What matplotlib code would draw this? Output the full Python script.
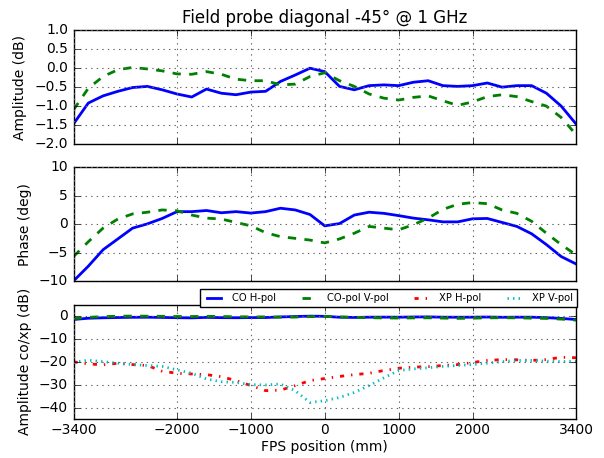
import numpy as np
import matplotlib
matplotlib.use('Agg')
import matplotlib.pyplot as plt

plt.style.use('classic')
plt.rcParams['font.size'] = 10

# FPS position (mm), sampled every 200 mm
pos = np.arange(-3400, 3401, 200)

# amplitude (dB)
amp_h = [-1.47, -0.92, -0.73, -0.61, -0.51, -0.48, -0.57, -0.68, -0.76, -0.55,
         -0.66, -0.70, -0.63, -0.61, -0.35, -0.18, 0.00, -0.09, -0.48, -0.57,
         -0.46, -0.44, -0.46, -0.37, -0.33, -0.46, -0.48, -0.46, -0.39, -0.50,
         -0.46, -0.46, -0.66, -1.00, -1.47]
amp_v = [-1.10, -0.53, -0.22, -0.04, 0.02, -0.02, -0.07, -0.15, -0.16, -0.09,
         -0.16, -0.29, -0.33, -0.33, -0.44, -0.42, -0.22, -0.12, -0.33, -0.48,
         -0.68, -0.79, -0.84, -0.77, -0.73, -0.86, -0.98, -0.89, -0.75, -0.70,
         -0.75, -0.88, -1.00, -1.30, -1.75]

# phase (deg)
phase_h = [-10.0, -7.4, -4.5, -2.6, -0.7, 0.05, 1.0, 2.2, 2.2, 2.4,
           2.0, 2.2, 1.95, 2.2, 2.8, 2.5, 1.7, -0.3, 0.1, 1.6,
           2.1, 1.9, 1.5, 1.06, 0.76, 0.4, 0.4, 0.94, 1.0, 0.3,
           -0.4, -1.7, -3.6, -5.7, -7.0]
phase_v = [-5.7, -3.1, -0.7, 0.9, 1.8, 2.1, 2.5, 2.35, 1.6, 1.06,
           0.9, 0.3, -0.3, -1.5, -2.2, -2.5, -2.8, -3.3, -2.6, -1.6,
           -0.4, -0.7, -1.0, -0.1, 1.06, 2.6, 3.5, 3.8, 3.6, 2.5,
           1.9, 0.5, -1.6, -3.6, -5.4]

# cross-pol amplitude (dB)
xp_h = [-20.0, -20.9, -21.3, -20.6, -21.2, -21.6, -24.1, -25.0, -25.3, -25.6,
        -26.5, -28.2, -30.4, -32.6, -32.4, -30.4, -28.2, -27.3, -26.4, -25.6,
        -25.0, -23.8, -22.8, -22.3, -22.1, -21.6, -21.2, -20.3, -19.4, -19.0,
        -19.1, -19.4, -19.0, -18.0, -18.2]
xp_v = [-20.1, -19.3, -19.9, -20.6, -21.2, -21.6, -22.0, -23.5, -25.0, -27.5,
        -28.7, -29.0, -30.0, -30.1, -29.7, -32.6, -37.8, -37.0, -35.6, -33.4,
        -30.4, -27.0, -23.8, -23.1, -22.6, -22.0, -21.6, -21.2, -20.6, -19.9,
        -19.4, -19.4, -19.7, -19.9, -19.7]

xticks = [-3400, -2000, -1000, 0, 1000, 2000, 3400]

fig = plt.figure(figsize=(6.04, 4.58), dpi=100, facecolor='white')
ax1 = fig.add_axes([0.1217, 0.6856, 0.8319, 0.2482])
ax2 = fig.add_axes([0.1217, 0.3865, 0.8319, 0.2482])
ax3 = fig.add_axes([0.1217, 0.0852, 0.8319, 0.2495])

ax1.plot(pos, amp_h, 'b-', lw=2)
ax1.plot(pos, amp_v, 'g--', lw=2)
ax1.set_ylim(-2.0, 1.0)
ax1.set_yticks([-2.0, -1.5, -1.0, -0.5, 0.0, 0.5, 1.0])
ax1.set_ylabel('Amplitude (dB)')
ax1.set_title('Field probe diagonal -45° @ 1 GHz', fontsize=12)

ax2.plot(pos, phase_h, 'b-', lw=2)
ax2.plot(pos, phase_v, 'g--', lw=2)
ax2.set_ylim(-10, 10)
ax2.set_yticks([-10, -5, 0, 5, 10])
ax2.set_ylabel('Phase (deg)')

ax3.plot(pos, amp_h, 'b-', lw=2, label='CO H-pol')
ax3.plot(pos, amp_v, 'g--', lw=2, label='CO-pol V-pol')
ax3.plot(pos, xp_h, 'r-.', lw=2, label='XP H-pol')
ax3.plot(pos, xp_v, 'c:', lw=2, label='XP V-pol')
ax3.set_ylim(-45, 5)
ax3.set_yticks([-40, -30, -20, -10, 0])
ax3.set_ylabel('Amplitude co/xp (dB)')
ax3.set_xlabel('FPS position (mm)', labelpad=2)
ax3.tick_params(axis='x', pad=3)
ax3.legend(loc='upper right', bbox_to_anchor=(1.002, 1.137), borderaxespad=0,
           ncol=4, fontsize=7.2, handlelength=2, handletextpad=0.8,
           columnspacing=2.25, borderpad=0.4)

for ax in (ax1, ax2, ax3):
    ax.set_xlim(-3400, 3400)
    ax.set_xticks(xticks)
    ax.grid(True, color='0.4', linestyle=':', linewidth=0.8)
for ax in (ax1, ax2):
    ax.set_xticklabels([])

fig.savefig('out.png', dpi=100, facecolor='white')
